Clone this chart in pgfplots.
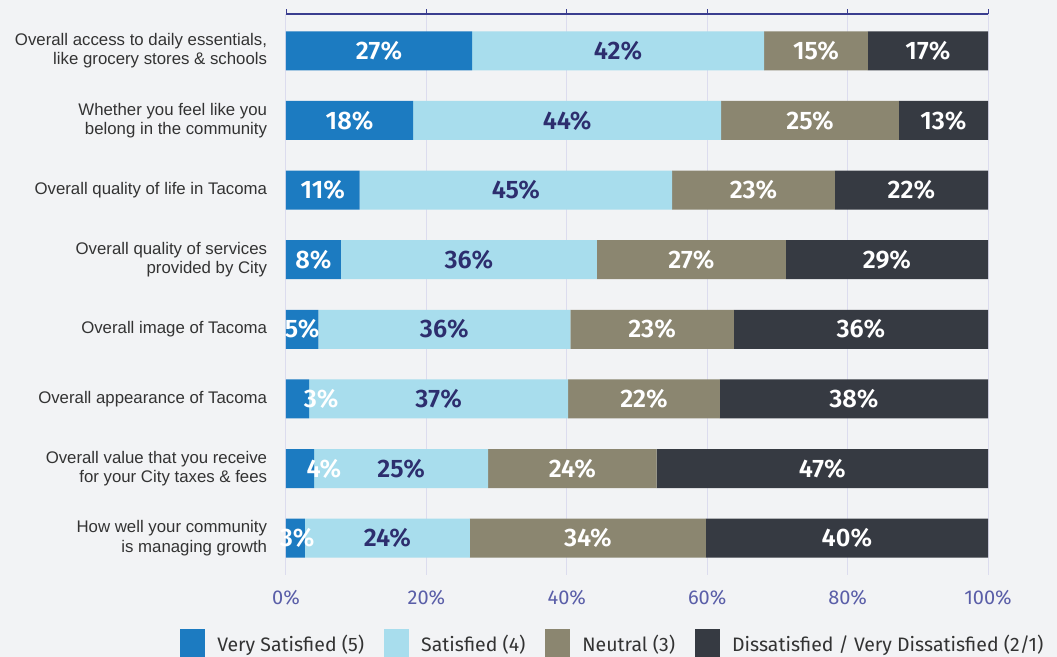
\documentclass[border=0pt]{standalone}
\usepackage{fontspec}
\setmainfont{Liberation Sans}
\newfontfamily\fira{Fira Sans}
\newfontfamily\firasb{Fira Sans SemiBold}
\usepackage{pgfplots}
\pgfplotsset{compat=1.18}
\definecolor{bg}{HTML}{F2F3F5}
\definecolor{vs}{HTML}{1C7BC1}
\definecolor{sa}{HTML}{A8DDED}
\definecolor{ne}{HTML}{8B8670}
\definecolor{di}{HTML}{363A42}
\definecolor{slab}{HTML}{2D2E6E}
\definecolor{gridc}{HTML}{DCDCEE}
\definecolor{navy}{HTML}{3A3D8F}
\definecolor{tickc}{HTML}{5A5EA8}
\definecolor{ylab}{HTML}{333333}
\definecolor{legc}{HTML}{333333}
\pgfplotsset{
  common/.style={at={(214.5pt,61.5pt)}, anchor=south west, scale only axis,
    width=526.5pt, height=420.75pt, xmin=0, xmax=100, ymin=-0.53, ymax=7.53, y dir=reverse},
  lab/.style={only marks, mark=none, nodes near coords={\pgfmathprintnumber[fixed,precision=0,assume math mode=true]{\pgfplotspointmeta}\%},
    point meta=explicit, forget plot,
    nodes near coords style={font=\firasb\fontsize{19}{21}\selectfont, text=#1, anchor=center, inner sep=0pt}}
}
\begin{document}
\begin{tikzpicture}
\useasboundingbox (0,0) rectangle (792.75pt,492.75pt);
\fill[bg] (0,0) rectangle (792.75pt,492.75pt);
\begin{axis}[common,
  xbar stacked, bar width=29.25pt,
  axis line style={draw=none}, major tick length=0pt,
  xtick={0,20,...,100}, xticklabels={0\%,20\%,40\%,60\%,80\%,100\%},
  xmajorgrids, grid style={gridc, line width=0.75pt},
  ytick={0,...,7},
  yticklabels={{Overall access to daily essentials,\\like grocery stores \& schools},
    {Whether you feel like you\\belong in the community},
    {Overall quality of life in Tacoma},
    {Overall quality of services\\provided by City},
    {Overall image of Tacoma},
    {Overall appearance of Tacoma},
    {Overall value that you receive\\for your City taxes \& fees},
    {How well your community\\is managing growth}},
  y tick label style={align=right, font=\fontsize{12.6}{14.6}\selectfont, text=ylab, inner sep=0pt, xshift=-14pt},
  x tick label style={font=\fira\fontsize{15}{17}\selectfont, text=tickc, inner sep=0pt, yshift=-11pt},
  legend columns=4,
  legend style={draw=none, fill=none, at={(-0.151,-0.123)}, anchor=west, inner sep=0pt,
    font=\fira\fontsize{14.6}{16}\selectfont, text=legc, nodes={inner sep=0pt},
    /tikz/every odd column/.append style={column sep=9pt},
    /tikz/every even column/.append style={column sep=15pt}},
  legend cell align=left,
  legend image code/.code={\fill[#1] (0pt,-11.25pt) rectangle (18.75pt,11.25pt);},
]
\addplot[fill=vs, draw=none] coordinates {(26.5,0) (18.1,1) (10.5,2) (7.8,3) (4.6,4) (3.3,5) (4.0,6) (2.7,7)};
\addplot[fill=sa, draw=none] coordinates {(41.6,0) (43.9,1) (44.5,2) (36.5,3) (35.9,4) (36.9,5) (24.8,6) (23.5,7)};
\addplot[fill=ne, draw=none] coordinates {(14.8,0) (25.3,1) (23.2,2) (26.9,3) (23.3,4) (21.6,5) (24.0,6) (33.6,7)};
\addplot[fill=di, draw=none] coordinates {(17.1,0) (12.7,1) (21.8,2) (28.8,3) (36.2,4) (38.2,5) (47.2,6) (40.2,7)};
\legend{Very Satisfied (5), Satisfied (4), Neutral (3), Dissatisfied / Very Dissatisfied (2/1)}
\end{axis}
\begin{axis}[common,
  axis x line*=top, axis y line=none, x axis line style={-, navy, line width=0.9pt},
  xtick={0,20,...,100}, xticklabels={}, ytick=\empty,
  tick align=outside, major tick length=3.75pt, x tick style={navy, line width=0.75pt},
  clip=false]
\addplot[lab=white] table[meta=v] {
x y v
13.25 0 27
9.05 1 18
5.25 2 11
3.9 3 8
2.3 4 5
5.0 5 3
5.4 6 4
1.6 7 3
};
\addplot[lab=slab] table[meta=v] {
x y v
47.3 0 42
40.05 1 44
32.75 2 45
26.05 3 36
22.55 4 36
21.75 5 37
16.4 6 25
14.45 7 24
};
\addplot[lab=white] table[meta=v] {
x y v
75.5 0 15
74.65 1 25
66.6 2 23
57.75 3 27
52.15 4 23
51.0 5 22
40.8 6 24
43.0 7 34
};
\addplot[lab=white] table[meta=v] {
x y v
91.45 0 17
93.65 1 13
89.1 2 22
85.6 3 29
81.9 4 36
80.9 5 38
76.4 6 47
79.9 7 40
};
\end{axis}
\end{tikzpicture}
\end{document}
